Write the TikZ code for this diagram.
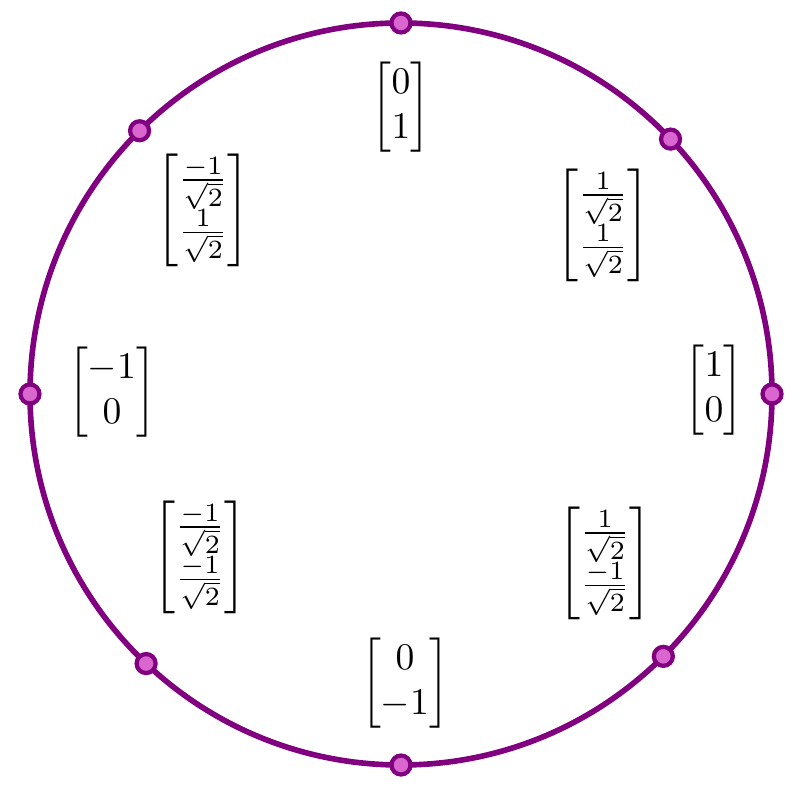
\documentclass[tikz,border=0pt]{standalone}
\usepackage{amsmath}
\usetikzlibrary{positioning}
\definecolor{ringpurple}{RGB}{128,0,128}
\definecolor{dotpink}{RGB}{218,102,208}

\begin{document}
\begin{tikzpicture}[
    ring/.style={draw=ringpurple, line width=1.6pt},
    point/.style={circle, draw=ringpurple, fill=dotpink, line width=1.2pt, inner sep=0pt, minimum size=0.19cm},
    vec/.style={inner sep=0pt, text=black, scale=1.07}
]
\useasboundingbox (-4.01,-4.06) rectangle (3.99,3.94);

\coordinate (origin) at (0,0);
\draw[ring] (origin) circle (3.71);

% points on the circle
\node[point] (p0)   at (0:3.71)     {};
\node[point] (p45)  at (43.4:3.71)  {};
\node[point] (p90)  at (90:3.71)    {};
\node[point] (p135) at (134.8:3.71) {};
\node[point] (p180) at (180:3.71)   {};
\node[point] (p225) at (226.6:3.71) {};
\node[point] (p270) at (270:3.71)   {};
\node[point] (p315) at (315:3.71)   {};

% vectors
\node[vec] (v0)   at (3.13, 0.04)  {$\begin{bmatrix}1\\0\end{bmatrix}$};
\node[vec] (v45)  at (2.02, 1.69)  {$\begin{bmatrix}\frac{1}{\sqrt{2}}\\\frac{1}{\sqrt{2}}\end{bmatrix}$};
\node[vec] (v90)  at (0, 2.87)     {$\begin{bmatrix}0\\1\end{bmatrix}$};
\node[vec] (v135) at (-1.98, 1.84) {$\begin{bmatrix}\frac{-1}{\sqrt{2}}\\\frac{1}{\sqrt{2}}\end{bmatrix}$};
\node[vec] (v180) at (-2.89, 0.02) {$\begin{bmatrix}-1\\0\end{bmatrix}$};
\node[vec] (v225) at (-2.01, -1.63) {$\begin{bmatrix}\frac{-1}{\sqrt{2}}\\\frac{-1}{\sqrt{2}}\end{bmatrix}$};
\node[vec] (v270) at (0.04, -2.89) {$\begin{bmatrix}0\\-1\end{bmatrix}$};
\node[vec] (v315) at (2.04, -1.69) {$\begin{bmatrix}\frac{1}{\sqrt{2}}\\\frac{-1}{\sqrt{2}}\end{bmatrix}$};

\end{tikzpicture}
\end{document}
